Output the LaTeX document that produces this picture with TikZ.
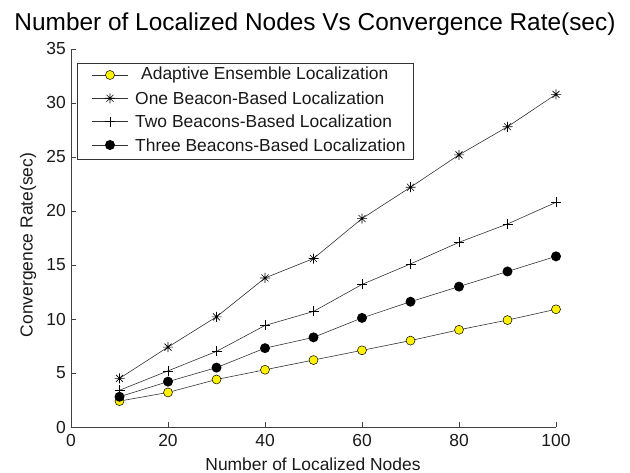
\documentclass[tikz,border=0pt]{standalone}
\usepackage{fontspec}
\setmainfont{Liberation Sans}
\usetikzlibrary{calc}

\newcommand{\plottitlefont}{\fontsize{24.5}{26}\selectfont}
\newcommand{\plotlabelfont}{\fontsize{17.5}{19}\selectfont}

\tikzset{
  axisline/.style={draw=black!75, line width=0.8bp},
  dataline/.style={draw=black!80, line width=0.6bp},
  ticklabel/.style={font=\plotlabelfont, text=black!90, inner sep=0pt},
  legendtext/.style={font=\plotlabelfont, text=black!90, inner sep=0pt, anchor=west},
  legendbox/.style={draw=black!80, fill=white, line width=0.7bp},
  yellowdot/.style={circle, draw=black, fill=yellow, line width=0.5bp, minimum size=9bp, inner sep=0pt},
  blackdot/.style={circle, fill=black, minimum size=10bp, inner sep=0pt},
  pics/plusmark/.style={code={
    \draw[black, line width=0.6bp] (-5bp,0) -- (5bp,0) (0,-5bp) -- (0,5bp);}},
  pics/starmark/.style={code={
    \draw[black, line width=0.6bp] (-5bp,0) -- (5bp,0) (0,-5bp) -- (0,5bp)
      (-3.5bp,-3.5bp) -- (3.5bp,3.5bp) (-3.5bp,3.5bp) -- (3.5bp,-3.5bp);}},
}

\begin{document}
\begin{tikzpicture}
  \useasboundingbox (0,0) rectangle (630bp,473bp);
  \node[font=\plottitlefont, anchor=base, inner sep=0pt] (title) at (315bp,442bp)
    {Number of Localized Nodes Vs Convergence Rate(sec)};
  \node[ticklabel, rotate=90] (ylabel) at (28bp,228bp) {Convergence Rate(sec)};
  \node[ticklabel, anchor=base] (xlabel) at (313bp,3bp) {Number of Localized Nodes};

  \begin{scope}[shift={(71bp,46bp)}, x=4.85bp, y=10.8bp]
    \coordinate (origin) at (0,0);
    \coordinate (xend) at (100,0);
    \coordinate (yend) at (0,35);
    \draw[axisline] (yend) -- (origin) -- (xend);
    \foreach \x in {0,20,...,100} {
      \draw[axisline] (\x,0) -- ++(0,5bp);
      \node[ticklabel, anchor=north, yshift=-7bp] (xt\x) at (\x,0) {\x};
    }
    \foreach \y in {0,5,...,35} {
      \draw[axisline] (0,\y) -- ++(4.5bp,0);
      \node[ticklabel, anchor=east, xshift=-5bp] (yt\y) at (0,\y) {\y};
    }

    \foreach \v [count=\i] in {2.4,3.2,4.4,5.3,6.2,7.1,8.0,9.0,9.9,10.9}
      \coordinate (ael\i) at (10*\i,\v);
    \foreach \v [count=\i] in {4.5,7.4,10.2,13.8,15.6,19.3,22.2,25.2,27.8,30.8}
      \coordinate (one\i) at (10*\i,\v);
    \foreach \v [count=\i] in {3.4,5.2,7.0,9.4,10.7,13.2,15.1,17.1,18.8,20.8}
      \coordinate (two\i) at (10*\i,\v);
    \foreach \v [count=\i] in {2.8,4.2,5.5,7.3,8.3,10.1,11.6,13.0,14.4,15.8}
      \coordinate (three\i) at (10*\i,\v);

    \draw[dataline] (ael1) \foreach \i in {2,...,10} { -- (ael\i) };
    \foreach \i in {1,...,10}
      \node[yellowdot] (aeldot\i) at (ael\i) {};
    \draw[dataline] (one1) \foreach \i in {2,...,10} { -- (one\i) };
    \foreach \i in {1,...,10}
      \pic at (one\i) {starmark};
    \draw[dataline] (two1) \foreach \i in {2,...,10} { -- (two\i) };
    \foreach \i in {1,...,10}
      \pic at (two\i) {plusmark};
    \draw[dataline] (three1) \foreach \i in {2,...,10} { -- (three\i) };
    \foreach \i in {1,...,10}
      \node[blackdot] (threedot\i) at (three\i) {};
  \end{scope}

  \draw[legendbox] (77bp,314bp) rectangle (413bp,410bp);
  \coordinate (legA) at (110bp,398bp);
  \coordinate (legB) at (110bp,374.7bp);
  \coordinate (legC) at (110bp,351.3bp);
  \coordinate (legD) at (110bp,328bp);
  \foreach \r in {A,B,C,D}
    \draw[dataline] ([xshift=-18bp]leg\r) -- ([xshift=18bp]leg\r);
  \node[yellowdot] (legAmark) at (legA) {};
  \pic at (legB) {starmark};
  \pic at (legC) {plusmark};
  \node[blackdot] (legDmark) at (legD) {};
  \node[legendtext] (legAtext) at (141bp,398bp) {Adaptive Ensemble Localization};
  \node[legendtext] (legBtext) at (135bp,374.7bp) {One Beacon-Based Localization};
  \node[legendtext] (legCtext) at (135bp,351.3bp) {Two Beacons-Based Localization};
  \node[legendtext] (legDtext) at (135bp,328bp) {Three Beacons-Based Localization};
\end{tikzpicture}
\end{document}
